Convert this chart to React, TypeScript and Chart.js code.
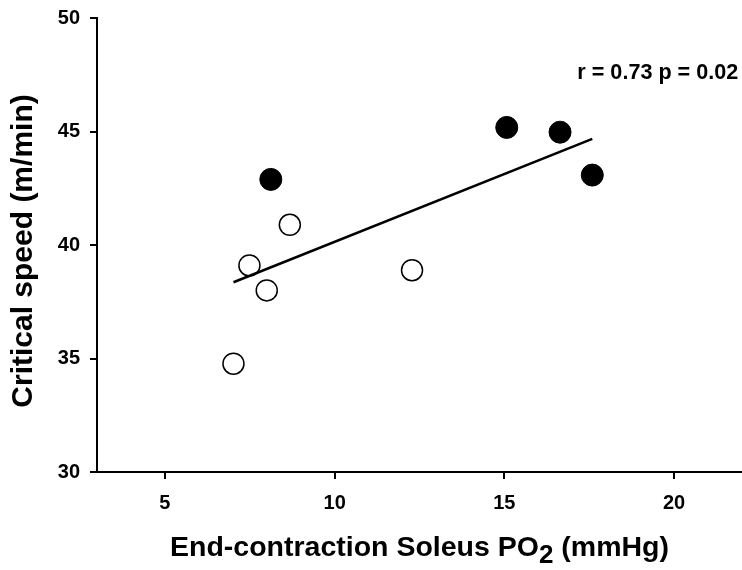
import React, { useEffect, useRef } from 'react';
import { Chart, registerables } from 'chart.js';

Chart.register(...registerables);

// Data
const openX = [7.02, 7.49, 8.0, 8.68, 12.28];
const openY = [34.77, 39.1, 38.0, 40.89, 38.89];
const filledX = [8.12, 15.07, 16.64, 17.59];
const filledY = [42.89, 45.18, 44.97, 43.08];
const xTickValues = [5, 10, 15, 20];
const yTickValues = [30, 35, 40, 45, 50];
const xTitleMain = 'End-contraction Soleus PO';
const xTitleSub = '2';
const xTitleTail = ' (mmHg)';
const yTitle = 'Critical speed (m/min)';
const statsText = 'r = 0.73 p = 0.02';

const FONT = 'Arial, "Liberation Sans", sans-serif';

function regression(xs: number[], ys: number[]) {
  const n = xs.length;
  const mx = xs.reduce((a, b) => a + b, 0) / n;
  const my = ys.reduce((a, b) => a + b, 0) / n;
  let sxy = 0, sxx = 0;
  for (let i = 0; i < n; i++) {
    sxy += (xs[i] - mx) * (ys[i] - my);
    sxx += (xs[i] - mx) * (xs[i] - mx);
  }
  const slope = sxy / sxx;
  return { slope, intercept: my - slope * mx };
}

export default function App() {
  const ref = useRef<HTMLCanvasElement | null>(null);

  useEffect(() => {
    const allX = [...openX, ...filledX];
    const allY = [...openY, ...filledY];
    const { slope, intercept } = regression(allX, allY);
    const x0 = Math.min(...allX);
    const x1 = Math.max(...allX);
    const linePts = [
      { x: x0, y: intercept + slope * x0 },
      { x: x1, y: intercept + slope * x1 },
    ];

    const textPlugin = {
      id: 'customText',
      afterDraw(chart: any) {
        const { ctx, chartArea, scales } = chart;
        ctx.save();
        ctx.fillStyle = '#000';
        // x-axis title with subscript
        ctx.font = `bold 28.5px ${FONT}`;
        const w1 = ctx.measureText(xTitleMain).width;
        const w3 = ctx.measureText(xTitleTail).width;
        ctx.font = `bold 26px ${FONT}`;
        const w2 = ctx.measureText(xTitleSub).width;
        const total = w1 + w2 + w3;
        const cx = (chartArea.left + chartArea.right) / 2;
        const base = chartArea.bottom + 84;
        const sx = cx - total / 2;
        ctx.textAlign = 'left';
        ctx.textBaseline = 'alphabetic';
        ctx.font = `bold 28.5px ${FONT}`;
        ctx.fillText(xTitleMain, sx, base);
        ctx.fillText(xTitleTail, sx + w1 + w2, base);
        ctx.font = `bold 26px ${FONT}`;
        ctx.fillText(xTitleSub, sx + w1, base + 7);
        // y-axis title
        ctx.save();
        ctx.translate(chartArea.left - 73, (chartArea.top + chartArea.bottom) / 2 + 6);
        ctx.rotate(-Math.PI / 2);
        ctx.font = `bold 30px ${FONT}`;
        ctx.textAlign = 'center';
        ctx.textBaseline = 'middle';
        ctx.fillText(yTitle, 0, 0);
        ctx.restore();
        // stats annotation
        ctx.font = `bold 21.6px ${FONT}`;
        ctx.textAlign = 'left';
        ctx.textBaseline = 'middle';
        ctx.fillText(statsText, scales.x.getPixelForValue(17.15), scales.y.getPixelForValue(47.57));
        ctx.restore();
      },
    };

    const chart = new Chart(ref.current!, {
      type: 'scatter',
      data: {
        datasets: [
          {
            type: 'line',
            data: linePts,
            borderColor: '#000',
            borderWidth: 2.5,
            pointRadius: 0,
            fill: false,
            order: 0,
          } as any,
          {
            data: filledX.map((x, i) => ({ x, y: filledY[i] })),
            backgroundColor: '#000',
            borderColor: '#000',
            borderWidth: 1,
            pointRadius: 11,
            order: 1,
          },
          {
            data: openX.map((x, i) => ({ x, y: openY[i] })),
            backgroundColor: '#fff',
            borderColor: '#000',
            borderWidth: 1.5,
            pointRadius: 10.5,
            order: 2,
          },
        ],
      },
      options: {
        animation: false,
        responsive: false,
        layout: { autoPadding: false, padding: { top: 18, right: 0, left: 0, bottom: 0 } },
        plugins: { legend: { display: false }, tooltip: { enabled: false } },
        scales: {
          x: {
            type: 'linear',
            min: 3,
            max: 22,
            afterBuildTicks: (s: any) => {
              s.ticks = xTickValues.map((v) => ({ value: v }));
            },
            afterFit: (s: any) => {
              s.height = 98;
              s.paddingLeft = 0;
              s.paddingRight = 0;
            },
            grid: { display: true, drawOnChartArea: false, drawTicks: true, tickLength: 7, color: '#000', lineWidth: 2 },
            border: { display: true, color: '#000', width: 2 },
            ticks: { color: '#000', font: { family: FONT, size: 20, weight: 'bold' }, padding: 12 },
          },
          y: {
            type: 'linear',
            min: 30,
            max: 50,
            afterBuildTicks: (s: any) => {
              s.ticks = yTickValues.map((v) => ({ value: v }));
            },
            afterFit: (s: any) => {
              s.width = 97;
              s.paddingTop = 0;
              s.paddingBottom = 0;
            },
            grid: { display: true, drawOnChartArea: false, drawTicks: true, tickLength: 7, color: '#000', lineWidth: 2 },
            border: { display: true, color: '#000', width: 2 },
            ticks: { color: '#000', font: { family: FONT, size: 20, weight: 'bold' }, padding: 10 },
          },
        },
      },
      plugins: [textPlugin],
    });
    return () => chart.destroy();
  }, []);

  return (
    <div style={{ position: 'fixed', left: 0, top: 0, width: 742, height: 570, background: '#fff' }}>
      <canvas ref={ref} width={742} height={570} style={{ width: 742, height: 570, display: 'block' }} />
    </div>
  );
}
